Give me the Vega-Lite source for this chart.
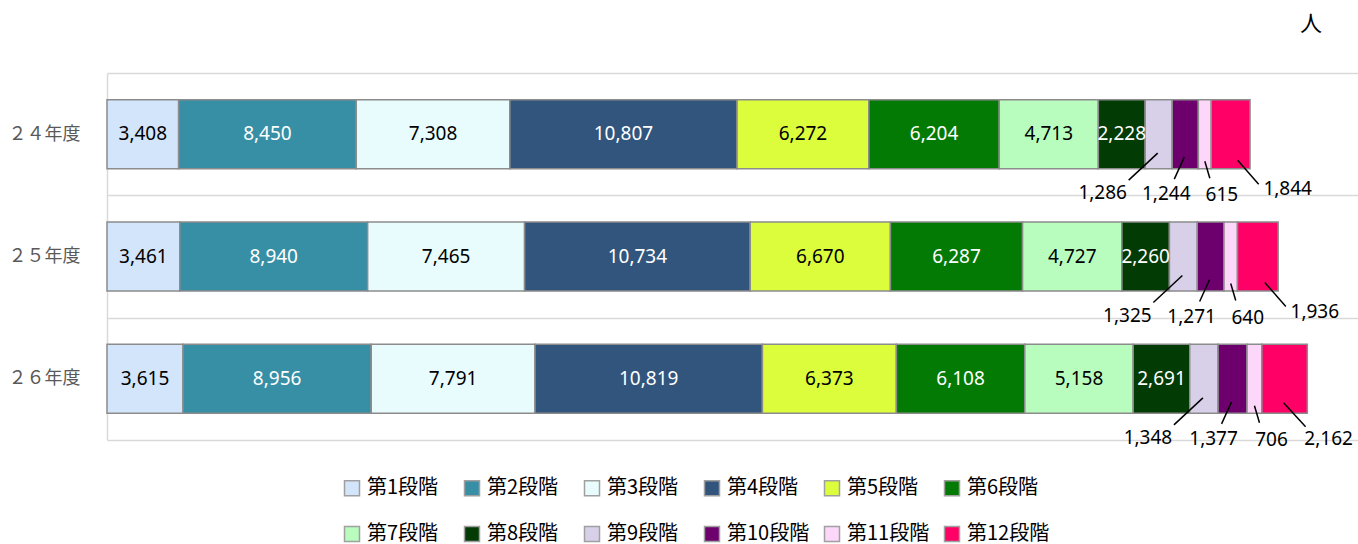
{
  "$schema": "https://vega.github.io/schema/vega-lite/v6.json",
  "width": 1251,
  "height": 367,
  "autosize": {"type": "none"},
  "padding": {"left": 107, "top": 73, "right": 0, "bottom": 104},
  "background": "white",
  "title": {"text": "人", "anchor": "end", "orient": "top", "fontSize": 22, "font": "Noto Sans CJK JP", "fontWeight": "normal", "color": "black", "dx": -36, "offset": 28},
  "config": {"view": {"stroke": null}},
  "data": {"values": [
    {"year": "２４年度", "stage": "第1段階", "order": 1, "value": 3408},
    {"year": "２４年度", "stage": "第2段階", "order": 2, "value": 8450},
    {"year": "２４年度", "stage": "第3段階", "order": 3, "value": 7308},
    {"year": "２４年度", "stage": "第4段階", "order": 4, "value": 10807},
    {"year": "２４年度", "stage": "第5段階", "order": 5, "value": 6272},
    {"year": "２４年度", "stage": "第6段階", "order": 6, "value": 6204},
    {"year": "２４年度", "stage": "第7段階", "order": 7, "value": 4713},
    {"year": "２４年度", "stage": "第8段階", "order": 8, "value": 2228},
    {"year": "２４年度", "stage": "第9段階", "order": 9, "value": 1286},
    {"year": "２４年度", "stage": "第10段階", "order": 10, "value": 1244},
    {"year": "２４年度", "stage": "第11段階", "order": 11, "value": 615},
    {"year": "２４年度", "stage": "第12段階", "order": 12, "value": 1844},
    {"year": "２５年度", "stage": "第1段階", "order": 1, "value": 3461},
    {"year": "２５年度", "stage": "第2段階", "order": 2, "value": 8940},
    {"year": "２５年度", "stage": "第3段階", "order": 3, "value": 7465},
    {"year": "２５年度", "stage": "第4段階", "order": 4, "value": 10734},
    {"year": "２５年度", "stage": "第5段階", "order": 5, "value": 6670},
    {"year": "２５年度", "stage": "第6段階", "order": 6, "value": 6287},
    {"year": "２５年度", "stage": "第7段階", "order": 7, "value": 4727},
    {"year": "２５年度", "stage": "第8段階", "order": 8, "value": 2260},
    {"year": "２５年度", "stage": "第9段階", "order": 9, "value": 1325},
    {"year": "２５年度", "stage": "第10段階", "order": 10, "value": 1271},
    {"year": "２５年度", "stage": "第11段階", "order": 11, "value": 640},
    {"year": "２５年度", "stage": "第12段階", "order": 12, "value": 1936},
    {"year": "２６年度", "stage": "第1段階", "order": 1, "value": 3615},
    {"year": "２６年度", "stage": "第2段階", "order": 2, "value": 8956},
    {"year": "２６年度", "stage": "第3段階", "order": 3, "value": 7791},
    {"year": "２６年度", "stage": "第4段階", "order": 4, "value": 10819},
    {"year": "２６年度", "stage": "第5段階", "order": 5, "value": 6373},
    {"year": "２６年度", "stage": "第6段階", "order": 6, "value": 6108},
    {"year": "２６年度", "stage": "第7段階", "order": 7, "value": 5158},
    {"year": "２６年度", "stage": "第8段階", "order": 8, "value": 2691},
    {"year": "２６年度", "stage": "第9段階", "order": 9, "value": 1348},
    {"year": "２６年度", "stage": "第10段階", "order": 10, "value": 1377},
    {"year": "２６年度", "stage": "第11段階", "order": 11, "value": 706},
    {"year": "２６年度", "stage": "第12段階", "order": 12, "value": 2162}
  ]},
  "transform": [
    {"stack": "value", "groupby": ["year"], "sort": [{"field": "order", "order": "ascending"}], "as": ["v0", "v1"]},
    {"calculate": "(datum.v0 + datum.v1) / 2", "as": "mid"}
  ],
  "encoding": {
    "y": {
      "field": "year", "type": "nominal", "sort": ["２４年度", "２５年度", "２６年度"],
      "scale": {"paddingInner": 0, "paddingOuter": 0},
      "axis": {"title": null, "ticks": false, "tickBand": "extent", "grid": true, "gridColor": "#D9D9D9", "gridWidth": 1.5, "domainColor": "#D9D9D9", "domainWidth": 1.5, "labelFont": "Noto Sans CJK JP", "labelFontSize": 18, "labelColor": "#595959", "labelPadding": 27}
    }
  },
  "layer": [
    {
      "mark": {"type": "bar", "stroke": "#8C8C8C", "strokeWidth": 1.5, "height": {"band": 0.564}},
      "encoding": {
        "x": {"field": "v0", "type": "quantitative", "scale": {"domain": [0, 59515], "nice": false, "zero": true}, "axis": null},
        "x2": {"field": "v1"},
        "color": {
          "field": "stage", "type": "nominal",
          "scale": {
            "domain": ["第1段階", "第2段階", "第3段階", "第4段階", "第5段階", "第6段階", "第7段階", "第8段階", "第9段階", "第10段階", "第11段階", "第12段階"],
            "range": ["#D3E5FB", "#378FA6", "#E8FCFE", "#32557D", "#DBFD3C", "#037A03", "#B9FDBE", "#033B05", "#D8D0E8", "#6D006D", "#FCD7F9", "#FF0066"]
          },
          "legend": {
            "title": null, "orient": "none", "legendX": 235, "legendY": 405, "direction": "horizontal", "columns": 6, "gridAlign": "all",
            "symbolType": "square", "symbolSize": 225, "symbolStrokeColor": "#A0A0A0", "symbolStrokeWidth": 1.5,
            "labelFont": "Noto Sans CJK JP", "labelFontSize": 20, "labelColor": "black", "labelOffset": 5, "columnPadding": 11, "rowPadding": 24, "labelLimit": 200
          }
        }
      }
    },
    {
      "transform": [{"filter": "datum.order <= 8 && datum.order % 2 == 1"}],
      "mark": {"type": "text", "font": "Noto Sans", "fontSize": 19, "color": "black", "baseline": "middle", "align": "center"},
      "encoding": {"x": {"field": "mid", "type": "quantitative"}, "text": {"field": "value", "type": "quantitative", "format": ",d"}}
    },
    {
      "transform": [{"filter": "datum.order <= 8 && datum.order % 2 == 0"}],
      "mark": {"type": "text", "font": "Noto Sans", "fontSize": 19, "color": "white", "baseline": "middle", "align": "center"},
      "encoding": {"x": {"field": "mid", "type": "quantitative"}, "text": {"field": "value", "type": "quantitative", "format": ",d"}}
    },
    {
      "transform": [{"filter": "datum.order == 9"}],
      "mark": {"type": "rule", "color": "black", "strokeWidth": 1.5, "xOffset": -1, "x2Offset": -30, "yOffset": 19, "y2Offset": 46},
      "encoding": {"x": {"field": "mid", "type": "quantitative"}, "x2": {"field": "mid"}, "y2": {"field": "year"}}
    },
    {
      "transform": [{"filter": "datum.order == 10"}],
      "mark": {"type": "rule", "color": "black", "strokeWidth": 1.5, "xOffset": -1, "x2Offset": -11, "yOffset": 23, "y2Offset": 45},
      "encoding": {"x": {"field": "mid", "type": "quantitative"}, "x2": {"field": "mid"}, "y2": {"field": "year"}}
    },
    {
      "transform": [{"filter": "datum.order == 11"}],
      "mark": {"type": "rule", "color": "black", "strokeWidth": 1.5, "xOffset": 0, "x2Offset": 5, "yOffset": 27, "y2Offset": 44},
      "encoding": {"x": {"field": "mid", "type": "quantitative"}, "x2": {"field": "mid"}, "y2": {"field": "year"}}
    },
    {
      "transform": [{"filter": "datum.order == 12 && datum.year != '２６年度'"}],
      "mark": {"type": "rule", "color": "black", "strokeWidth": 1.5, "xOffset": 7, "x2Offset": 28, "yOffset": 26, "y2Offset": 50},
      "encoding": {"x": {"field": "mid", "type": "quantitative"}, "x2": {"field": "mid"}, "y2": {"field": "year"}}
    },
    {
      "transform": [{"filter": "datum.order == 12 && datum.year == '２６年度'"}],
      "mark": {"type": "rule", "color": "black", "strokeWidth": 1.5, "xOffset": -1, "x2Offset": 21, "yOffset": 24, "y2Offset": 48},
      "encoding": {"x": {"field": "mid", "type": "quantitative"}, "x2": {"field": "mid"}, "y2": {"field": "year"}}
    },
    {
      "transform": [{"filter": "datum.order == 9"}],
      "mark": {"type": "text", "font": "Noto Sans", "fontSize": 19, "color": "black", "baseline": "middle", "align": "center", "dx": -56, "dy": 59},
      "encoding": {"x": {"field": "mid", "type": "quantitative"}, "text": {"field": "value", "type": "quantitative", "format": ",d"}}
    },
    {
      "transform": [{"filter": "datum.order == 10"}],
      "mark": {"type": "text", "font": "Noto Sans", "fontSize": 19, "color": "black", "baseline": "middle", "align": "center", "dx": -19, "dy": 60},
      "encoding": {"x": {"field": "mid", "type": "quantitative"}, "text": {"field": "value", "type": "quantitative", "format": ",d"}}
    },
    {
      "transform": [{"filter": "datum.order == 11"}],
      "mark": {"type": "text", "font": "Noto Sans", "fontSize": 19, "color": "black", "baseline": "middle", "align": "center", "dx": 17, "dy": 61},
      "encoding": {"x": {"field": "mid", "type": "quantitative"}, "text": {"field": "value", "type": "quantitative", "format": ",d"}}
    },
    {
      "transform": [{"filter": "datum.order == 12 && datum.year != '２６年度'"}],
      "mark": {"type": "text", "font": "Noto Sans", "fontSize": 19, "color": "black", "baseline": "middle", "align": "center", "dx": 57, "dy": 55},
      "encoding": {"x": {"field": "mid", "type": "quantitative"}, "text": {"field": "value", "type": "quantitative", "format": ",d"}}
    },
    {
      "transform": [{"filter": "datum.order == 12 && datum.year == '２６年度'"}],
      "mark": {"type": "text", "font": "Noto Sans", "fontSize": 19, "color": "black", "baseline": "middle", "align": "center", "dx": 44, "dy": 60},
      "encoding": {"x": {"field": "mid", "type": "quantitative"}, "text": {"field": "value", "type": "quantitative", "format": ",d"}}
    }
  ]
}
